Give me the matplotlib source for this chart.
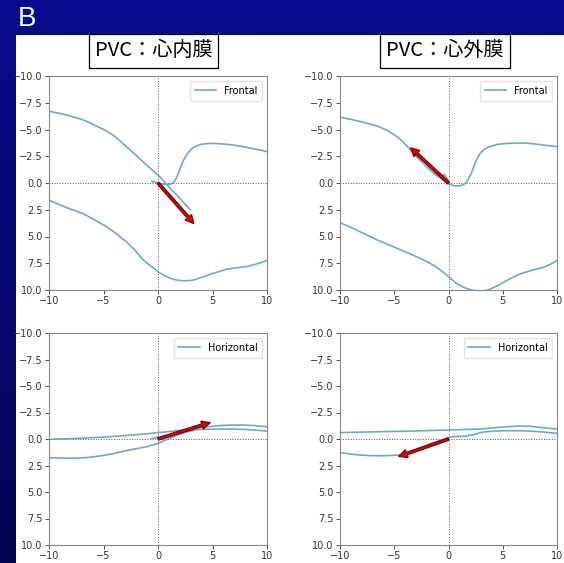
import numpy as np
import matplotlib
matplotlib.use("Agg")
import matplotlib.pyplot as plt
from matplotlib.patches import Rectangle

plt.rcParams['font.family'] = ['DejaVu Sans']

# ---------------- data ----------------
titles = ["PVC：心内膜", "PVC：心外膜"]
legend_labels = ["Frontal", "Frontal", "Horizontal", "Horizontal"]

xticks = [-10, -5, 0, 5, 10]
yticks = [-10.0, -7.5, -5.0, -2.5, 0.0, 2.5, 5.0, 7.5, 10.0]

# Panel 1: endocardial, frontal
endo_fr_a_x = [-10, -9, -8, -7, -6.3, -5.5, -4.8, -4.1, -3.5, -2.9, -2.3, -1.6, -1.0, -0.5, 0, 0.5, 1.0, 1.5, 2.0, 2.5, 2.95]
endo_fr_a_y = [-6.7, -6.5, -6.25, -5.95, -5.65, -5.25, -4.9, -4.45, -3.95, -3.4, -2.85, -2.2, -1.65, -1.2, -0.75, -0.2, 0.35, 0.9, 1.45, 2.0, 2.5]
endo_fr_b_x = [-0.55, -0.2, 0.2, 0.6, 1.0, 1.3, 1.5, 1.7, 1.9, 2.1, 2.3, 2.6, 2.9, 3.2, 3.6, 4.0, 4.5, 5.1, 6.0, 6.9, 7.7, 8.5, 9.3, 10]
endo_fr_b_y = [-0.15, -0.05, 0.05, 0.12, 0.12, 0.05, -0.15, -0.5, -1.0, -1.55, -2.05, -2.6, -3.0, -3.3, -3.5, -3.62, -3.68, -3.7, -3.65, -3.55, -3.42, -3.25, -3.1, -2.93]
endo_fr_c_x = [-10, -9, -8, -6.9, -5.8, -4.7, -3.8, -2.9, -2.1, -1.35, -0.6, 0, 0.5, 1.1, 1.6, 2.2, 2.7, 3.25, 3.7, 4.2, 4.6, 5.1, 5.7, 6.3, 7.2, 8.2, 9.1, 10]
endo_fr_c_y = [1.6, 2.05, 2.45, 2.85, 3.45, 4.1, 4.75, 5.5, 6.3, 7.2, 7.8, 8.3, 8.62, 8.9, 9.05, 9.13, 9.13, 9.07, 8.92, 8.75, 8.6, 8.42, 8.25, 8.05, 7.92, 7.8, 7.55, 7.25]
endo_fr_vec = [3.3, 3.8]

# Panel 2: epicardial, frontal
epi_fr_a_x = [-10, -9, -7.55, -6.5, -5.7, -4.9, -4.2, -3.6, -2.95, -2.3, -1.7, -1.1, -0.5, 0, 0.4, 0.75, 1.1, 1.5, 1.8, 2.1, 2.5, 2.9, 3.3, 3.8, 4.5, 5.3, 6.2, 7.2, 8.0, 8.7, 9.4, 10]
epi_fr_a_y = [-6.15, -5.95, -5.6, -5.3, -4.95, -4.45, -3.85, -3.2, -2.45, -1.8, -1.2, -0.7, -0.3, 0.1, 0.22, 0.28, 0.25, 0.1, -0.3, -0.9, -2.0, -2.75, -3.15, -3.4, -3.6, -3.7, -3.73, -3.72, -3.65, -3.55, -3.47, -3.4]
epi_fr_b_x = [-0.7, -0.4, -0.1, 0.0]
epi_fr_b_y = [-0.5, -0.8, -0.4, 0.0]
epi_fr_c_x = [-10, -9, -7.85, -6.5, -5.1, -4.2, -3.25, -2.5, -1.7, -1.2, -0.8, -0.4, 0, 0.4, 0.75, 1.2, 1.65, 2.3, 2.9, 3.5, 4.1, 4.7, 5.3, 5.95, 6.6, 7.2, 7.9, 8.7, 9.4, 10]
epi_fr_c_y = [3.7, 4.15, 4.7, 5.35, 5.95, 6.35, 6.75, 7.1, 7.5, 7.8, 8.1, 8.4, 8.75, 9.1, 9.4, 9.65, 9.85, 10.05, 10.1, 10.05, 9.8, 9.5, 9.15, 8.8, 8.5, 8.3, 8.1, 7.9, 7.6, 7.25]
epi_fr_vec = [-3.5, -3.3]

# Panel 3: endocardial, horizontal
endo_hz_a_x = [-10, -7.5, -5.3, -3.5, -2.3, -1.0, 0, 1.2, 2.3, 3.4, 4.5, 5.7, 6.9, 7.8, 8.8, 10]
endo_hz_a_y = [0.03, -0.05, -0.16, -0.28, -0.38, -0.5, -0.6, -0.72, -0.85, -1.0, -1.16, -1.27, -1.32, -1.32, -1.27, -1.16]
endo_hz_b_x = [-10, -8.9, -7.8, -6.5, -5.3, -4.1, -2.9, -1.9, -1.0, -0.5, 0, 0.7, 1.4, 2.0, 2.6, 3.2, 3.9, 5.0, 6.0, 6.9, 8.0, 9.0, 10]
endo_hz_b_y = [1.76, 1.8, 1.82, 1.75, 1.6, 1.38, 1.1, 0.9, 0.72, 0.56, 0.4, 0.1, -0.22, -0.47, -0.69, -0.82, -0.9, -0.93, -0.94, -0.94, -0.9, -0.83, -0.75]
endo_hz_c_x = [-0.6, 1.0, 3.25]
endo_hz_c_y = [-0.05, -0.35, -0.8]
endo_hz_vec = [4.8, -1.55]

# Panel 4: epicardial, horizontal
epi_hz_a_x = [-10, -6.3, -3.25, 0, 2.9, 4.4, 5.5, 6.6, 7.5, 8.4, 10]
epi_hz_a_y = [-0.6, -0.69, -0.75, -0.85, -0.94, -1.07, -1.17, -1.22, -1.2, -1.1, -0.94]
epi_hz_b_x = [-1.7, -1.1, -0.5, 0, 0.45, 1.65, 2.2, 2.6, 3.0, 3.5, 4.3, 5.3, 6.4, 7.5, 8.8, 10]
epi_hz_b_y = [0.45, 0.25, 0.06, -0.12, -0.22, -0.28, -0.38, -0.5, -0.62, -0.69, -0.75, -0.78, -0.78, -0.75, -0.65, -0.53]
epi_hz_c_x = [-10, -9.3, -8.8, -8.0, -7.2, -6.4, -5.7, -5.0, -4.5]
epi_hz_c_y = [1.3, 1.38, 1.45, 1.52, 1.57, 1.58, 1.57, 1.54, 1.5]
epi_hz_vec = [-4.6, 1.65]

panels = [
    ([(endo_fr_a_x, endo_fr_a_y), (endo_fr_b_x, endo_fr_b_y), (endo_fr_c_x, endo_fr_c_y)], endo_fr_vec),
    ([(epi_fr_a_x, epi_fr_a_y), (epi_fr_b_x, epi_fr_b_y), (epi_fr_c_x, epi_fr_c_y)], epi_fr_vec),
    ([(endo_hz_a_x, endo_hz_a_y), (endo_hz_b_x, endo_hz_b_y), (endo_hz_c_x, endo_hz_c_y)], endo_hz_vec),
    ([(epi_hz_a_x, epi_hz_a_y), (epi_hz_b_x, epi_hz_b_y), (epi_hz_c_x, epi_hz_c_y)], epi_hz_vec),
]

# ---------------- figure ----------------
W, H = 564, 563
fig = plt.figure(figsize=(W / 100, H / 100), dpi=100)
fig.patch.set_facecolor('white')

# background: navy gradient with white content area
bg = fig.add_axes([0, 0, 1, 1], zorder=-10)
grad = np.linspace(0, 1, 256)[:, None]
top_c = np.array([11, 11, 143]) / 255
bot_c = np.array([4, 4, 80]) / 255
img = top_c[None, None, :] * (1 - grad[:, :, None]) + bot_c[None, None, :] * grad[:, :, None]
bg.imshow(img, extent=[0, W, H, 0], aspect='auto')
bg.add_patch(Rectangle((16, 35), W - 16, H - 35, facecolor='white', edgecolor='none'))
bg.set_xlim(0, W)
bg.set_ylim(H, 0)
bg.axis('off')

fig.text(18 / W, 1 - 19 / H, "B", color='white', fontsize=20,
         family=['Liberation Sans', 'DejaVu Sans'], va='center', ha='left')

for cx, t in zip([153.5 / W, 445 / W], titles):
    fig.text(cx, 1 - 51 / H, t, fontsize=14.5, ha='center', va='center',
             family=['Noto Sans CJK JP', 'DejaVu Sans'],
             bbox=dict(boxstyle='square,pad=0.3', facecolor='white', edgecolor='black', linewidth=0.9))

lefts = [49, 340, 49, 340]
tops = [76, 76, 333, 333]
bottoms = [290, 290, 545, 545]
widths = [218, 217, 218, 217]

line_color = '#5b9fd6'
for i, (segs, vec) in enumerate(panels):
    ax = fig.add_axes([lefts[i] / W, 1 - bottoms[i] / H, widths[i] / W, (bottoms[i] - tops[i]) / H])
    ax.axhline(0, color='#555555', lw=0.7, ls=':', zorder=1)
    ax.axvline(0, color='#555555', lw=0.7, ls=':', zorder=1)
    for j, (sx, sy) in enumerate(segs):
        ax.plot(sx, sy, color=line_color, lw=1.2, alpha=0.9,
                label=legend_labels[i] if j == 0 else None, zorder=2)
    ax.arrow(0, 0, vec[0], vec[1], width=0.25, head_width=0.8, head_length=0.8,
             length_includes_head=True, facecolor='#e00000', edgecolor='#7a0000',
             linewidth=0.8, zorder=4)
    ax.set_xlim(-10, 10)
    ax.set_ylim(10, -10)
    ax.set_xticks(xticks)
    ax.set_xticklabels([f"{v}".replace('-', '\u2212') for v in xticks])
    ax.set_yticks(yticks)
    ax.set_yticklabels([f"{v:.1f}".replace('-', '\u2212') for v in yticks])
    ax.tick_params(labelsize=7, length=3, width=0.6, colors='#333333', pad=1.5)
    for s in ax.spines.values():
        s.set_color('#888888')
        s.set_linewidth(0.8)
    ax.legend(loc='upper right', fontsize=7, frameon=True, handlelength=2.2,
              borderpad=0.5, framealpha=0.8, edgecolor='#dddddd')

fig.savefig('out.png', dpi=100)
